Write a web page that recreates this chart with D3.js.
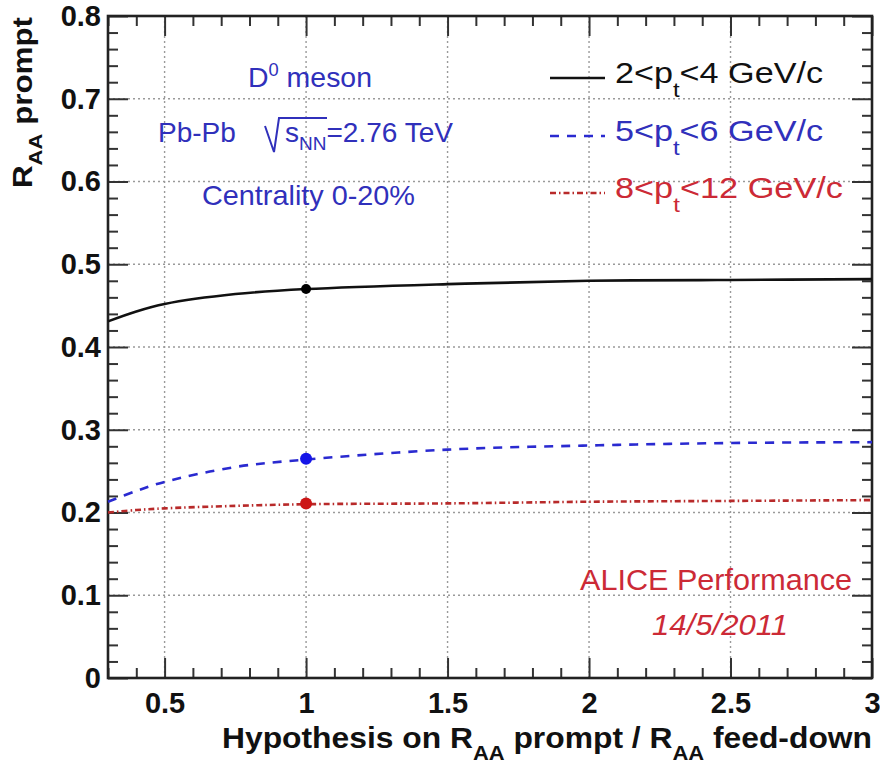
<!DOCTYPE html>
<html>
<head>
<meta charset="utf-8">
<script src="https://cdn.jsdelivr.net/npm/d3@7"></script>
<style>
  html, body { margin: 0; padding: 0; background: #fff; }
  svg { display: block; font-family: "Liberation Sans", Arial, Helvetica, sans-serif; }
</style>
</head>
<body>
<svg id="chart" width="880" height="768"></svg>
<script>
// ---------------- data ----------------
const xValues   = [0.3, 0.4, 0.5, 0.75, 1.0, 1.5, 2.0, 2.5, 3.0];
const rPt2to4   = [0.431, 0.443, 0.452, 0.464, 0.470, 0.476, 0.480, 0.481, 0.482];
const rPt5to6   = [0.213, 0.226, 0.237, 0.255, 0.264, 0.276, 0.281, 0.284, 0.285];
const rPt8to12  = [0.200, 0.203, 0.205, 0.208, 0.210, 0.211, 0.213, 0.214, 0.215];
const markerX   = 1.0;
const markerVals = [0.470, 0.265, 0.211];

const seriesNames = ["2<p_t<4 GeV/c", "5<p_t<6 GeV/c", "8<p_t<12 GeV/c"];
const seriesLow   = ["2", "5", "8"];
const seriesHigh  = ["4", "6", "12"];

const xTickValues = [0.5, 1, 1.5, 2, 2.5, 3];
const xTickLabels = ["0.5", "1", "1.5", "2", "2.5", "3"];
const yTickValues = [0, 0.1, 0.2, 0.3, 0.4, 0.5, 0.6, 0.7, 0.8];
const yTickLabels = ["0", "0.1", "0.2", "0.3", "0.4", "0.5", "0.6", "0.7", "0.8"];

// ---------------- layout ----------------
const L = 108, R = 872, T = 16, B = 678;
const svg = d3.select("#chart");
const x = d3.scaleLinear().domain([0.3, 3]).range([L, R]);
const y = d3.scaleLinear().domain([0, 0.8]).range([B, T]);

const BLUE_TXT = "#3030bb", RED_TXT = "#cc2a36";
const colors = ["#111111", "#2a2ad0", "#b82a2a"];
const dashes = [null, "9 8", "6 3 1.5 3"];
const markerColors = ["#000000", "#1515e8", "#cc1515"];

function fit(sel, w) { sel.attr("textLength", w).attr("lengthAdjust", "spacingAndGlyphs"); return sel; }

// grid
const grid = svg.append("g").attr("stroke", "#9a9a9a").attr("stroke-width", 1.4).attr("stroke-dasharray", "2 3");
grid.selectAll("line.gx").data(xTickValues.filter(v => v < 3)).join("line")
  .attr("x1", d => x(d)).attr("x2", d => x(d)).attr("y1", T).attr("y2", B);
grid.selectAll("line.gy").data(yTickValues.filter(v => v > 0 && v < 0.8)).join("line")
  .attr("class", "gy")
  .attr("x1", L).attr("x2", R).attr("y1", d => y(d)).attr("y2", d => y(d));

// axes (ticks inside)
const xMinor = d3.range(3, 31).map(v => v / 10).filter(v => !xTickValues.some(t => Math.abs(t - v) < 1e-9));
const yMinor = d3.range(0, 41).map(v => v / 50).filter(v => !yTickValues.some(t => Math.abs(t - v) < 1e-9));

function styleAxis(g) {
  g.select(".domain").remove();
  g.selectAll(".tick line").attr("stroke", "#333").attr("stroke-width", 2);
}
const gxB = svg.append("g").attr("transform", `translate(0,${B})`)
  .call(d3.axisBottom(x).tickValues(xTickValues).tickSize(-20).tickPadding(14)
        .tickFormat((d, i) => xTickLabels[i]));
gxB.call(styleAxis);
gxB.selectAll("text").attr("font-size", 29).attr("font-weight", "bold").attr("fill", "#111")
   .attr("font-family", "Liberation Sans, Arial, sans-serif");
svg.append("g").attr("transform", `translate(0,${B})`)
  .call(d3.axisBottom(x).tickValues(xMinor).tickSize(-10).tickFormat("")).call(styleAxis);
svg.append("g").attr("transform", `translate(0,${T})`)
  .call(d3.axisTop(x).tickValues(xTickValues).tickSize(-20).tickFormat("")).call(styleAxis);
svg.append("g").attr("transform", `translate(0,${T})`)
  .call(d3.axisTop(x).tickValues(xMinor).tickSize(-10).tickFormat("")).call(styleAxis);

const gyL = svg.append("g").attr("transform", `translate(${L},0)`)
  .call(d3.axisLeft(y).tickValues(yTickValues).tickSize(-20).tickPadding(7)
        .tickFormat((d, i) => yTickLabels[i]));
gyL.call(styleAxis);
gyL.selectAll("text").attr("font-size", 29).attr("font-weight", "bold").attr("fill", "#111")
   .attr("font-family", "Liberation Sans, Arial, sans-serif");
svg.append("g").attr("transform", `translate(${L},0)`)
  .call(d3.axisLeft(y).tickValues(yMinor).tickSize(-10).tickFormat("")).call(styleAxis);
svg.append("g").attr("transform", `translate(${R},0)`)
  .call(d3.axisRight(y).tickValues(yTickValues).tickSize(-20).tickFormat("")).call(styleAxis);
svg.append("g").attr("transform", `translate(${R},0)`)
  .call(d3.axisRight(y).tickValues(yMinor).tickSize(-10).tickFormat("")).call(styleAxis);

// frame
svg.append("rect").attr("x", L).attr("y", T).attr("width", R - L).attr("height", B - T)
  .attr("fill", "none").attr("stroke", "#222").attr("stroke-width", 2.6);

// curves
const allSeries = [rPt2to4, rPt5to6, rPt8to12];
const line = d3.line().x(d => x(d[0])).y(d => y(d[1])).curve(d3.curveCatmullRom.alpha(0.5));
allSeries.forEach((vals, i) => {
  svg.append("path")
    .datum(xValues.map((xv, j) => [xv, vals[j]]))
    .attr("d", line)
    .attr("fill", "none")
    .attr("stroke", colors[i])
    .attr("stroke-width", 2.6)
    .attr("stroke-dasharray", dashes[i]);
});
// markers
svg.selectAll("circle.mk").data(markerVals).join("circle")
  .attr("class", "mk")
  .attr("cx", x(markerX)).attr("cy", d => y(d))
  .attr("r", (d, i) => i === 0 ? 5 : 6)
  .attr("fill", (d, i) => markerColors[i]);

// legend
const legY = [78, 136, 193];
const legW = [208, 208, 228];
seriesNames.forEach((name, i) => {
  svg.append("line").attr("x1", 550).attr("x2", 605).attr("y1", legY[i]).attr("y2", legY[i])
    .attr("stroke", colors[i]).attr("stroke-width", 2.6).attr("stroke-dasharray", dashes[i]);
  const t = svg.append("text").attr("x", 615).attr("y", legY[i] + 5).attr("font-size", 30)
    .attr("fill", i === 0 ? "#111" : (i === 1 ? BLUE_TXT : RED_TXT));
  t.append("tspan").text(seriesLow[i] + "<p");
  t.append("tspan").attr("font-size", 21).attr("dy", 14).text("t");
  t.append("tspan").attr("dy", -14).text("<" + seriesHigh[i] + " GeV/c");
  fit(t, legW[i]);
});

// info text (blue)
const t1 = svg.append("text").attr("x", 248).attr("y", 87).attr("font-size", 28).attr("fill", BLUE_TXT);
t1.append("tspan").text("D");
t1.append("tspan").attr("font-size", 18).attr("dy", -11).text("0");
t1.append("tspan").attr("dy", 11).text(" meson");
fit(t1, 124);

svg.append("text").attr("x", 158).attr("y", 142).attr("font-size", 28).attr("fill", BLUE_TXT).text("Pb-Pb");
svg.append("path").attr("d", "M265,126 L274,152 L279,118 L327,118")
  .attr("fill", "none").attr("stroke", BLUE_TXT).attr("stroke-width", 2);
const t2 = svg.append("text").attr("x", 285).attr("y", 142).attr("font-size", 28).attr("fill", BLUE_TXT);
t2.append("tspan").text("s");
t2.append("tspan").attr("font-size", 19).attr("dy", 8).text("NN");
t2.append("tspan").attr("dy", -8).text("=2.76 TeV");
fit(t2, 168);

fit(svg.append("text").attr("x", 202).attr("y", 205).attr("font-size", 28).attr("fill", BLUE_TXT)
  .text("Centrality 0-20%"), 213);

// ALICE performance
fit(svg.append("text").attr("x", 580).attr("y", 590).attr("font-size", 29).attr("fill", RED_TXT)
  .text("ALICE Performance"), 272);
fit(svg.append("text").attr("x", 652).attr("y", 635).attr("font-size", 29).attr("font-style", "italic")
  .attr("fill", RED_TXT).text("14/5/2011"), 136);

// axis titles
const xt = svg.append("text").attr("x", 222).attr("y", 748).attr("font-size", 29)
  .attr("font-weight", "bold").attr("fill", "#111");
xt.append("tspan").text("Hypothesis on R");
xt.append("tspan").attr("font-size", 20).attr("dy", 12).text("AA");
xt.append("tspan").attr("dy", -12).text(" prompt / R");
xt.append("tspan").attr("font-size", 20).attr("dy", 12).text("AA");
xt.append("tspan").attr("dy", -12).text(" feed-down");
fit(xt, 650);

const yt = svg.append("text").attr("transform", "translate(32,188) rotate(-90)")
  .attr("font-size", 27).attr("font-weight", "bold").attr("fill", "#111");
yt.append("tspan").text("R");
yt.append("tspan").attr("font-size", 19).attr("dy", 10).text("AA");
yt.append("tspan").attr("dy", -10).text(" prompt");
fit(yt, 171);
</script>
</body>
</html>
